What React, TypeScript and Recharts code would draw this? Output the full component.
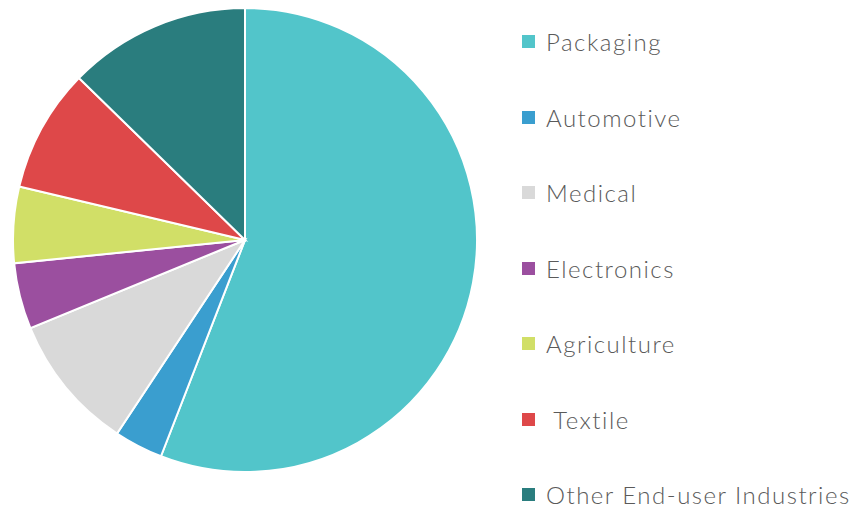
import React from "react";
import { PieChart, Pie, Cell, Legend } from "recharts";

const categories = [
  "Packaging",
  "Automotive",
  "Medical",
  "Electronics",
  "Agriculture",
  " Textile",
  "Other End-user Industries",
];

const shares = [55.9, 3.4, 9.5, 4.6, 5.3, 8.6, 12.7];

const COLORS = [
  "#52c5ca", // teal
  "#3a9ecf", // blue
  "#d9d9d9", // grey
  "#9b4f9f", // purple
  "#d1df67", // lime
  "#de4849", // red
  "#2a7d7e", // dark teal
];

const data = categories.map((name, i) => ({ name, value: shares[i] }));

function LegendList() {
  return (
    <div style={{ fontFamily: "Lato, sans-serif" }}>
      {categories.map((name, i) => (
        <div
          key={name}
          style={{
            height: 75.5,
            display: "flex",
            alignItems: "center",
            whiteSpace: "pre",
          }}
        >
          <span
            style={{
              display: "inline-block",
              width: 13,
              height: 13,
              background: COLORS[i],
              marginRight: 11,
            }}
          />
          <span style={{ fontSize: 24, fontWeight: 300, letterSpacing: 1.5, color: "#5a5a5a" }}>
            {name}
          </span>
        </div>
      ))}
    </div>
  );
}

export default function App() {
  return (
    <div style={{ position: "absolute", left: 0, top: 0, background: "#fff" }}>
      <PieChart width={864} height={509} margin={{ top: 0, right: 0, bottom: 0, left: 0 }}>
        <Pie
          data={data}
          dataKey="value"
          nameKey="name"
          cx={245}
          cy={240}
          outerRadius={232}
          startAngle={90}
          endAngle={-270}
          stroke="#fff"
          strokeWidth={2}
          isAnimationActive={false}
        >
          {data.map((entry, index) => (
            <Cell key={`cell-${index}`} fill={COLORS[index]} />
          ))}
        </Pie>
        <Legend
          layout="vertical"
          wrapperStyle={{ left: 522, top: 4, width: 340 }}
          content={() => <LegendList />}
        />
      </PieChart>
    </div>
  );
}
